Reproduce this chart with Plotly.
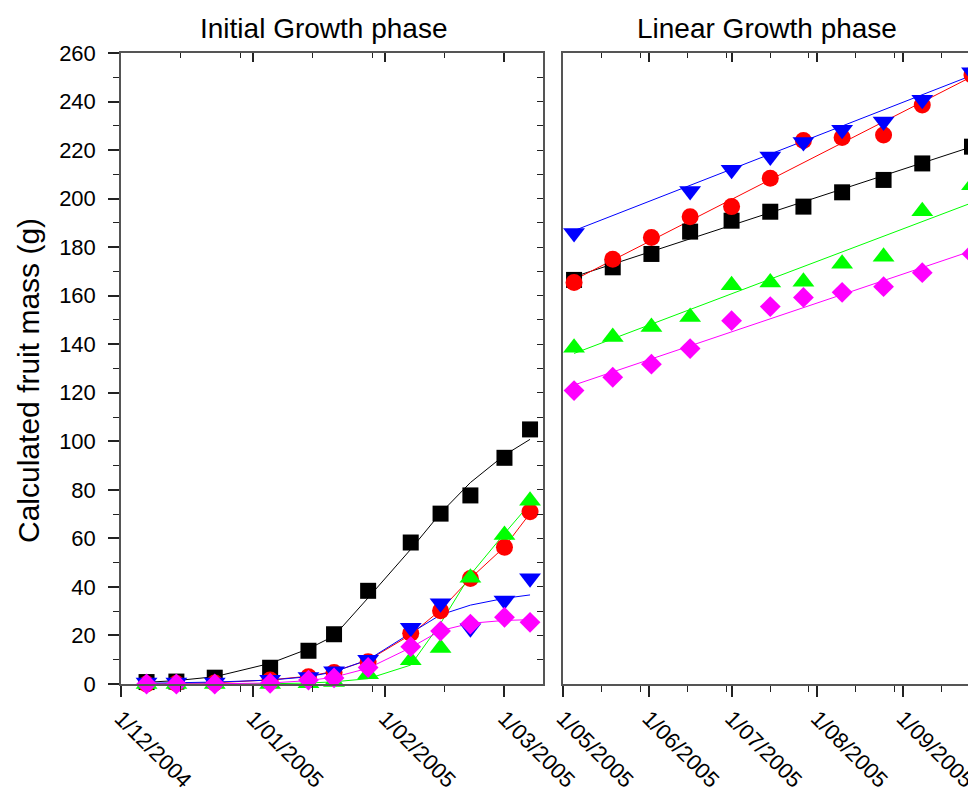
import plotly.graph_objects as go
from datetime import date, timedelta

# ---------------- data ----------------
initial_dates = ["2004-12-07", "2004-12-14", "2004-12-23", "2005-01-05", "2005-01-14", "2005-01-20",
                 "2005-01-28", "2005-02-07", "2005-02-14", "2005-02-21", "2005-03-01", "2005-03-07"]
init_black = [0.8, 1.0, 2.6, 6.7, 13.7, 20.5, 38.4, 58.3, 70.2, 77.7, 93.2, 104.9]
init_black_fit = [0.7, 1.4, 3.0, 8.5, 14.5, 19.8, 35.5, 55.5, 70.4, 83.0, 94.3, 100.8]
init_red = [0.0, 0.2, 0.4, 1.6, 3.0, 4.7, 9.2, 20.9, 30.2, 43.5, 56.3, 71.0]
init_red_fit = [0.0, 0.2, 0.5, 1.7, 3.2, 5.2, 9.8, 20.3, 30.5, 43.5, 56.5, 70.3]
init_green = [0.0, 0.0, 0.0, 0.0, 0.3, 0.8, 4.0, 9.8, 14.8, 43.8, 61.4, 75.5]
init_green_fit = [0.0, 0.0, 0.0, 0.1, 0.4, 0.9, 2.2, 7.8, 25.0, 45.0, 62.0, 74.3]
init_blue = [0.6, 0.6, 0.6, 1.8, 2.9, 5.3, 10.0, 23.2, 33.3, 23.0, 34.4, 43.6]
init_blue_fit = [0.3, 0.5, 0.8, 1.6, 3.0, 5.0, 10.0, 21.0, 28.5, 32.5, 35.3, 36.7]
init_magenta = [0.0, 0.0, 0.0, 0.3, 1.6, 2.5, 6.8, 15.4, 21.8, 24.7, 27.5, 25.4]
init_magenta_fit = [0.0, 0.0, 0.1, 0.4, 1.4, 2.8, 6.5, 15.0, 22.0, 25.0, 26.2, 26.5]

linear_dates = ["2005-05-05", "2005-05-19", "2005-06-02", "2005-06-16", "2005-07-01", "2005-07-15",
                "2005-07-27", "2005-08-10", "2005-08-25", "2005-09-08", "2005-09-26"]
lin_black = [166.5, 171.7, 177.2, 186.4, 190.9, 194.6, 196.7, 202.6, 207.7, 214.5, 221.4]
lin_red = [165.4, 175.0, 184.0, 192.5, 196.7, 208.4, 223.9, 225.2, 226.2, 238.6, 250.9]
lin_green = [138.6, 143.0, 147.1, 151.2, 164.3, 165.4, 165.7, 173.2, 176.0, 194.8, 205.5]
lin_blue = [185.8, None, None, 203.1, 211.9, 217.4, 223.3, 228.4, 231.8, 240.7, 252.1]
lin_magenta = [120.9, 126.4, 131.8, 138.2, 149.7, 155.5, 159.3, 161.4, 163.7, 169.5, 177.2]

fit_dates = ["2005-05-05", "2005-09-26"]
lin_black_fit = [167.8, 221.4]
lin_red_fit = [166.5, 250.3]
lin_green_fit = [136.2, 198.3]
lin_blue_fit = [186.8, 250.8]
lin_magenta_fit = [123.2, 178.5]

left_ticks = ["2004-12-01", "2005-01-01", "2005-02-01", "2005-03-01"]
left_ticktext = ["1/12/2004", "1/01/2005", "1/02/2005", "1/03/2005"]
right_ticks = ["2005-05-01", "2005-06-01", "2005-07-01", "2005-08-01", "2005-09-01"]
right_ticktext = ["1/05/2005", "1/06/2005", "1/07/2005", "1/08/2005", "1/09/2005"]
left_range = ["2004-12-01", "2005-03-10 01:00"]
right_range = ["2005-05-01", "2005-09-27 02:00"]

y_ticks = list(range(0, 261, 20))
y_range = [0, 260]

titles = ["Initial Growth phase", "Linear Growth phase"]
y_title = "Calculated fruit mass (g)"

colors = {"black": "#000000", "red": "#FF0000", "green": "#00FF00", "blue": "#0000FF", "magenta": "#FF00FF"}
symbols = {"black": "square", "red": "circle", "green": "triangle-up", "blue": "triangle-down", "magenta": "diamond"}
sizes = {"black": 16, "red": 17, "green": 19, "blue": 19, "magenta": 16}


def minor_vals(ticks, end):
    out = []
    e = date.fromisoformat(end[:10])
    for t in ticks:
        d = date.fromisoformat(t)
        for k in (14, 28):
            m = d + timedelta(days=k)
            if m <= e and m.isoformat() not in ticks:
                out.append(m.isoformat())
    return out


left_minor = minor_vals(left_ticks, left_range[1])
right_minor = minor_vals(right_ticks, right_range[1])

fig = go.Figure()

init_series = [("black", init_black, init_black_fit), ("red", init_red, init_red_fit),
               ("green", init_green, init_green_fit), ("blue", init_blue, init_blue_fit),
               ("magenta", init_magenta, init_magenta_fit)]
lin_series = [("black", lin_black, lin_black_fit), ("red", lin_red, lin_red_fit),
              ("green", lin_green, lin_green_fit), ("blue", lin_blue, lin_blue_fit),
              ("magenta", lin_magenta, lin_magenta_fit)]

for name, vals, fit in init_series:
    fig.add_trace(go.Scatter(x=initial_dates, y=fit, mode="lines", line=dict(color=colors[name], width=1),
                             xaxis="x", yaxis="y", showlegend=False, cliponaxis=False, hoverinfo="skip"))
for name, vals, fit in lin_series:
    fig.add_trace(go.Scatter(x=fit_dates, y=fit, mode="lines", line=dict(color=colors[name], width=1),
                             xaxis="x2", yaxis="y2", showlegend=False, cliponaxis=False, hoverinfo="skip"))
for name, vals, fit in init_series:
    fig.add_trace(go.Scatter(x=initial_dates, y=vals, mode="markers",
                             marker=dict(symbol=symbols[name], size=sizes[name], color=colors[name],
                                         line=dict(width=0)),
                             xaxis="x", yaxis="y", showlegend=False, cliponaxis=False))
for name, vals, fit in lin_series:
    fig.add_trace(go.Scatter(x=linear_dates, y=vals, mode="markers",
                             marker=dict(symbol=symbols[name], size=sizes[name], color=colors[name],
                                         line=dict(width=0)),
                             xaxis="x2", yaxis="y2", showlegend=False, cliponaxis=False))

# empty helper traces so that the frame (top / right) axes get drawn
for xa, ya, xr in [("x3", "y", left_range), ("x4", "y2", right_range),
                   ("x", "y3", left_range), ("x2", "y4", right_range)]:
    fig.add_trace(go.Scatter(x=xr, y=[None, None], mode="lines", xaxis=xa, yaxis=ya,
                             showlegend=False, hoverinfo="skip"))

# the page body has an 8px margin, so the figure is drawn 8px smaller and
# all pixel positions are given relative to the figure's own corner
OFF = 8
W, H = 976 - OFF, 789 - OFF
L1, R1, L2, R2 = 121 - OFF, 543 - OFF, 563 - OFF, 975 - OFF
TOP, BOT = 53 - OFF, 684 - OFF

axis_line = "#555555"
FONT = "Liberation Sans, Arial, Helvetica, sans-serif"
tickfont = dict(family=FONT, size=22, color="black")


def xaxis_common(rng, tv, tt, minor, dom, anchor):
    return dict(type="date", range=rng, domain=dom, anchor=anchor, automargin=False,
                showgrid=False, zeroline=False,
                showline=True, linecolor=axis_line, linewidth=1.5,
                tickmode="array", tickvals=tv, ticktext=tt, ticks="outside", ticklen=11,
                tickwidth=1.5, tickcolor="#222", tickangle=45, tickfont=tickfont, ticklabelstandoff=0,
                ticklabeloverflow="allow",
                minor=dict(tickmode="array", tickvals=minor, ticks="outside", ticklen=6,
                           tickwidth=1.2, tickcolor="#222", showgrid=False))


def xaxis_top(over, anchor, rng, tv, minor):
    return dict(type="date", overlaying=over, anchor=anchor, side="top", range=rng, automargin=False,
                showgrid=False, zeroline=False, showline=True, linecolor=axis_line, linewidth=1.5,
                tickmode="array", tickvals=tv, showticklabels=False, ticks="inside", ticklen=9,
                tickwidth=1.5, tickcolor="#222",
                minor=dict(tickmode="array", tickvals=minor, ticks="inside", ticklen=5,
                           tickwidth=1.2, tickcolor="#222", showgrid=False))


def yaxis_right(over, anchor, step):
    return dict(range=y_range, overlaying=over, anchor=anchor, side="right", automargin=False,
                showgrid=False, zeroline=False, showline=True, linecolor=axis_line, linewidth=1.5,
                showticklabels=False, tickmode="linear", tick0=0, dtick=step, ticks="inside",
                ticklen=6, tickwidth=1.2, tickcolor="#222")


dom1 = [L1 / W, R1 / W]
dom2 = [L2 / W, R2 / W]

fig.update_layout(
    width=W, height=H,
    margin=dict(l=0, r=0, t=TOP, b=H - BOT, autoexpand=False),
    paper_bgcolor="white", plot_bgcolor="white",
    font=dict(family=FONT, color="black"),
    xaxis=xaxis_common(left_range, left_ticks, left_ticktext, left_minor, dom1, "y"),
    xaxis2=xaxis_common(right_range, right_ticks, right_ticktext, right_minor, dom2, "y2"),
    xaxis3=xaxis_top("x", "y", left_range, left_ticks, left_minor),
    xaxis4=xaxis_top("x2", "y2", right_range, right_ticks, right_minor),
    yaxis=dict(range=y_range, domain=[0, 1], anchor="x", automargin=False, showgrid=False, zeroline=False,
               showline=True, linecolor=axis_line, linewidth=1.5,
               tickmode="array", tickvals=y_ticks, ticks="outside", ticklen=11, tickwidth=1.5,
               tickcolor="#222", tickfont=tickfont, ticklabelstandoff=8,
               minor=dict(tickmode="linear", tick0=0, dtick=10, ticks="outside", ticklen=6, tickwidth=1.2,
                          tickcolor="#222", showgrid=False)),
    yaxis2=dict(range=y_range, domain=[0, 1], anchor="x2", automargin=False, showgrid=False, zeroline=False,
                showline=True, linecolor=axis_line, linewidth=1.5, showticklabels=False, ticks=""),
    yaxis3=yaxis_right("y", "x", 10),
    yaxis4=yaxis_right("y2", "x2", 20),
)

ty = (BOT - (28 - OFF)) / (BOT - TOP)
fig.add_annotation(text=titles[0], x=(323.5 - OFF) / W, y=ty, xref="paper", yref="paper",
                   showarrow=False, xanchor="center", yanchor="middle",
                   font=dict(family=FONT, size=28, color="black"))
fig.add_annotation(text=titles[1], x=(766.5 - OFF) / W, y=ty, xref="paper", yref="paper",
                   showarrow=False, xanchor="center", yanchor="middle",
                   font=dict(family=FONT, size=28, color="black"))
fig.add_annotation(text=y_title, x=(28 - OFF) / W, y=(BOT - (381 - OFF)) / (BOT - TOP),
                   xref="paper", yref="paper",
                   showarrow=False, xanchor="center", yanchor="middle", textangle=-90,
                   font=dict(family=FONT, size=30, color="black"))

fig.write_html("out.html")
